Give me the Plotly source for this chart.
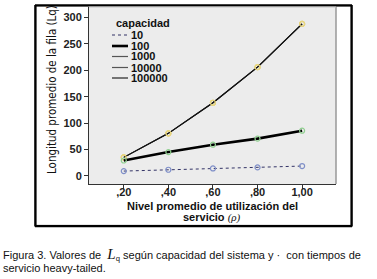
import base64
import plotly.graph_objects as go

# ---- data ----
rho = [0.2, 0.4, 0.6, 0.8, 1.0]
x_ticktext = [",20", ",40", ",60", ",80", "1,00"]
cap_names = ["10", "100", "1000", "10000", "100000"]
lq_10 = [9, 11.5, 14, 16, 18.5]
lq_100 = [29, 45, 59, 70.5, 85.5]
lq_1000 = [35, 80.5, 138.5, 206, 288]
lq_10000 = [35, 80.5, 138.5, 206, 288]
lq_100000 = [35, 80.5, 138.5, 206, 288]
y_tickvals = [0, 50, 100, 150, 200, 250, 300]

W, H = 377, 279
L, R, T, B = 89, 336, 7, 184

def fx(x):
    return x / W

def fy(y):
    return 1 - y / H

fig = go.Figure()

series = [
    (lq_1000, dict(color="#333333", width=1.1), "#e6d27a"),
    (lq_10000, dict(color="#333333", width=1.1), "#e6d27a"),
    (lq_100000, dict(color="#111111", width=1.1), "#e8d680"),
    (lq_100, dict(color="#000000", width=2.6), "#8fcf8f"),
    (lq_10, dict(color="#333366", width=1, dash="dot"), "#7f8fc8"),
]
names = ["1000", "10000", "100000", "100", "10"]
for (vals, line, mc), nm in zip(series, names):
    fig.add_trace(go.Scatter(
        x=rho, y=vals, mode="lines+markers", name=nm, line=line,
        marker=dict(symbol="circle-open", size=5, color=mc, line=dict(width=1.2, color=mc)),
        showlegend=False,
    ))

tickfont = dict(family="Liberation Sans, Arial, sans-serif", size=11, color="#222222")

fig.update_layout(
    width=W, height=H,
    margin=dict(l=0, r=0, t=0, b=0),
    paper_bgcolor="white",
    plot_bgcolor="#ececec",
    showlegend=False,
    xaxis=dict(
        domain=[fx(L), fx(R)],
        range=[0.044, 1.152], tickvals=rho, ticktext=["<b>%s</b>" % t for t in x_ticktext],
        ticks="outside", ticklen=4, tickcolor="#333", showgrid=False, zeroline=False,
        showline=True, linecolor="#333", linewidth=1, tickfont=tickfont,
        ticklabelstandoff=-6,
    ),
    yaxis=dict(
        domain=[fy(B), fy(T)],
        range=[-15.5, 320], tickvals=y_tickvals, ticktext=["<b>%d</b>" % v for v in y_tickvals],
        ticks="outside", ticklen=4, tickcolor="#333", showgrid=False, zeroline=False,
        showline=True, linecolor="#333", linewidth=1, tickfont=tickfont,
    ),
)

shapes = []
# outer figure box, drawn as four separate line segments
bx0, bx1, by0, by1 = 35, 352, 5, 226.5
frame = [(bx0, by0, bx1, by0), (bx1, by0, bx1, by1), (bx1, by1, bx0, by1), (bx0, by1, bx0, by0)]
for (xa, ya, xb, yb) in frame:
    shapes.append(dict(type="line", xref="paper", yref="paper", layer="above",
                       x0=fx(xa), x1=fx(xb), y0=fy(ya), y1=fy(yb),
                       line=dict(color="#000000", width=1.6)))
# plot area right/top border
shapes.append(dict(type="line", xref="paper", yref="paper", layer="above",
                   x0=fx(R), x1=fx(R), y0=fy(B), y1=fy(T),
                   line=dict(color="#999999", width=1.5)))
shapes.append(dict(type="line", xref="paper", yref="paper", layer="above",
                   x0=fx(L), x1=fx(R), y0=fy(T), y1=fy(T),
                   line=dict(color="#c4c4c4", width=1.2)))

# outer box also as an inline SVG image (no network needed)
bw, bh = bx1 - bx0, by1 - by0
svg = ("<svg xmlns='http://www.w3.org/2000/svg' width='%g' height='%g' viewBox='0 0 %g %g' "
       "preserveAspectRatio='none'><rect x='0.8' y='0.8' width='%g' height='%g' fill='none' "
       "stroke='black' stroke-width='1.6'/></svg>") % (bw, bh, bw, bh, bw - 1.6, bh - 1.6)
svg_uri = "data:image/svg+xml;base64," + base64.b64encode(svg.encode()).decode()
fig.add_layout_image(dict(source=svg_uri, xref="paper", yref="paper",
                          x=fx(bx0), y=fy(by0), sizex=bw / W, sizey=bh / H,
                          xanchor="left", yanchor="top", sizing="stretch", layer="above"))

annotations = []
# manual legend
leg_font = dict(family="Liberation Sans, Arial, sans-serif", size=11, color="#111")
legend_styles = [
    dict(color="#333366", width=1, dash="dot"),
    dict(color="#000000", width=2.6),
    dict(color="#555555", width=1.2),
    dict(color="#555555", width=1.2),
    dict(color="#555555", width=1.6),
]
annotations.append(dict(text="<b>capacidad</b>", xref="paper", yref="paper", x=fx(114), y=fy(23),
                        xanchor="left", yanchor="middle", showarrow=False, font=leg_font))
leg_y = [35, 46, 56.5, 67.5, 78]
for nm, st, yy in zip(cap_names, legend_styles, leg_y):
    shapes.append(dict(type="line", xref="paper", yref="paper", x0=fx(112), x1=fx(128),
                       y0=fy(yy), y1=fy(yy), line=st))
    annotations.append(dict(text="<b>%s</b>" % nm, xref="paper", yref="paper", x=fx(129), y=fy(yy),
                            xanchor="left", yanchor="middle", showarrow=False, font=leg_font))

# y title
annotations.append(dict(
    text="Longitud promedio de la fila (Lq)", xref="paper", yref="paper",
    x=fx(52), y=fy(90), textangle=-90, showarrow=False, xanchor="center", yanchor="middle",
    font=dict(family="DejaVu Sans Condensed", size=11.5, color="#111")))
# x title
annotations.append(dict(
    text="<b>Nivel promedio de utilización del</b>", xref="paper", yref="paper",
    x=fx(212), y=fy(205.5), showarrow=False, xanchor="center", yanchor="middle",
    font=dict(family="Liberation Sans, Arial, sans-serif", size=11, color="#111")))
annotations.append(dict(
    text="<b>servicio</b> <span style=\"font-family:Liberation Serif\"><i>(ρ)</i></span>",
    xref="paper", yref="paper",
    x=fx(212), y=fy(217), showarrow=False, xanchor="center", yanchor="middle",
    font=dict(family="Liberation Sans, Arial, sans-serif", size=11, color="#111")))

# caption
cap_font = dict(family="Liberation Sans, Arial, sans-serif", size=11, color="#111")
annotations.append(dict(
    text="Figura 3. Valores de  <span style=\"font-family:Liberation Serif;font-size:15px\"><i>L</i></span><sub>q</sub> según capacidad del sistema y ·  con tiempos de",
    xref="paper", yref="paper", x=fx(1), y=fy(254), showarrow=False,
    xanchor="left", yanchor="middle", font=cap_font))
annotations.append(dict(
    text="servicio heavy-tailed.",
    xref="paper", yref="paper", x=fx(1), y=fy(268), showarrow=False,
    xanchor="left", yanchor="middle", font=cap_font))

fig.update_layout(shapes=shapes, annotations=annotations)
fig.write_html("out.html", config={"displayModeBar": False},
               post_script="document.body.style.margin='0';document.body.style.padding='0';")
